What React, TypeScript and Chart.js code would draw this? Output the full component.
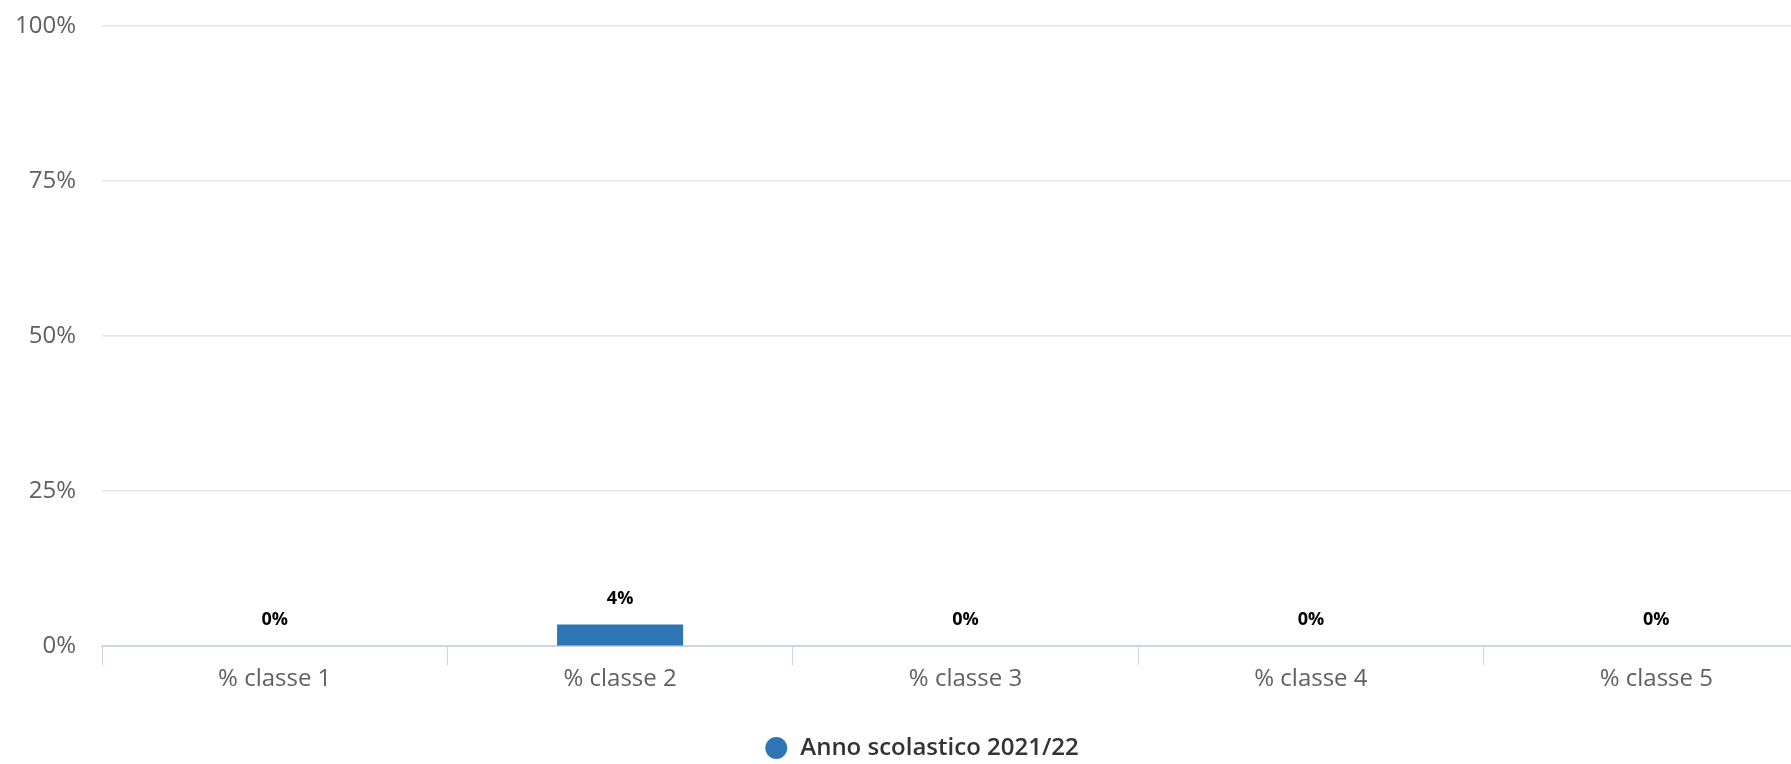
import React, { useEffect, useRef } from "react";
import { Chart, registerables } from "chart.js";

Chart.register(...registerables);

const categories = ["% classe 1", "% classe 2", "% classe 3", "% classe 4", "% classe 5"];
const seriesName = "Anno scolastico 2021/22";
const seriesValues = [0, 3.5, 0, 0, 0];
const yTicks = [0, 25, 50, 75, 100];

const FONT = "'Open Sans', 'DejaVu Sans', sans-serif";
const BAR_COLOR = "#2E75B6";

const dataLabelPlugin = {
  id: "dataLabels",
  afterDatasetsDraw(chart: any) {
    const ctx = chart.ctx;
    const meta = chart.getDatasetMeta(0);
    ctx.save();
    ctx.font = `bold 18px ${FONT}`;
    ctx.fillStyle = "#000000";
    ctx.textAlign = "center";
    ctx.textBaseline = "middle";
    meta.data.forEach((bar: any, i: number) => {
      const v = seriesValues[i];
      ctx.fillText(Math.round(v) + "%", bar.x, bar.y - 26);
    });
    ctx.restore();
  },
};

export default function App() {
  const ref = useRef<HTMLCanvasElement | null>(null);
  useEffect(() => {
    if (!ref.current) return;
    const chart = new Chart(ref.current, {
      type: "bar",
      data: {
        labels: categories,
        datasets: [
          {
            label: seriesName,
            data: seriesValues,
            backgroundColor: BAR_COLOR,
            borderWidth: 0,
            barPercentage: 0.365,
            categoryPercentage: 1,
          },
        ],
      },
      options: {
        animation: false,
        responsive: true,
        maintainAspectRatio: false,
        layout: { padding: { left: 14, right: 5, top: 26, bottom: -6 } },
        plugins: {
          tooltip: { enabled: false },
          legend: {
            position: "bottom",
            labels: {
              usePointStyle: true,
              pointStyle: "circle",
              boxWidth: 24,
              boxHeight: 15.5,
              color: "#333333",
              font: { family: FONT, size: 24, weight: "600" as any },
              padding: 1,
            },
          },
        },
        scales: {
          x: {
            grid: {
              display: true,
              drawOnChartArea: false,
              drawTicks: true,
              tickLength: 19,
              color: "#ccd6eb",
              offset: true,
            },
            border: { display: true, color: "#ccd6eb", width: 2 },
            ticks: {
              color: "#606060",
              font: { family: FONT, size: 24, weight: "500" as any },
              padding: 0,
            },
            afterFit(scale: any) {
              scale.height += 41;
            },
          },
          y: {
            min: 0,
            max: 100,
            afterBuildTicks(scale: any) {
              scale.ticks = yTicks.map((v) => ({ value: v }));
            },
            afterFit(scale: any) {
              scale.width = 88;
              scale.paddingTop = 0;
              scale.paddingBottom = 0;
            },
            grid: { color: "#e6e6e6", lineWidth: 1.5, drawTicks: false },
            border: { display: false },
            ticks: {
              color: "#606060",
              font: { family: FONT, size: 24, weight: "500" as any },
              padding: 26,
              callback: (v: any) => v + "%",
            },
          },
        },
      },
      plugins: [dataLabelPlugin],
    });
    return () => chart.destroy();
  }, []);

  return (
    <div style={{ position: "absolute", left: 0, top: 0, width: 1791, height: 764, overflow: "hidden", background: "#ffffff" }}>
      <div style={{ position: "relative", width: 1834, height: 764 }}>
        <canvas ref={ref} />
      </div>
    </div>
  );
}
